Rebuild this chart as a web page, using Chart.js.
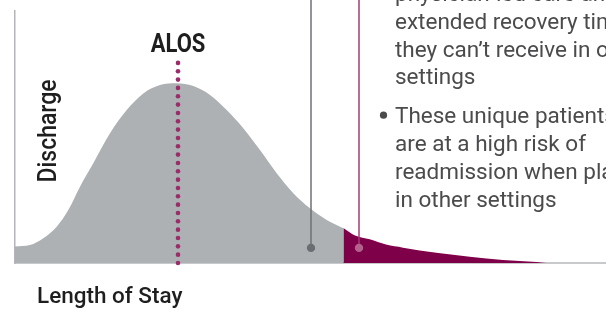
<!DOCTYPE html>
<html>
<head>
<meta charset="utf-8">
<script src="https://cdn.jsdelivr.net/npm/chart.js@4"></script>
<style>
html,body{margin:0;padding:0;background:#fff;overflow:hidden;}
canvas{display:block;}
</style>
</head>
<body>
<canvas id="c" width="606" height="312"></canvas>
<script>
// Length of stay (x) vs discharges (y)
const typicalLos = [0, 1.5, 2.83, 4.17, 5.33, 6.5, 7.83, 9.5, 11.17, 12.83, 14.5, 16.17, 17.83, 19.5, 21.17, 22.83, 24.5, 26.17, 27.83, 29.5, 31.17, 32.83];
const typicalDischarge = [6.5, 7.1, 9.8, 14.4, 21.0, 30.3, 39.6, 51.5, 60.7, 67.3, 70.6, 71.3, 70.2, 66.7, 60.7, 53.5, 44.8, 35.6, 27.7, 21.7, 17.1, 13.8];
const outlierLos = [32.83, 34.0, 35.47, 37.1, 38.8, 42.13, 45.47, 48.8, 52.13, 53.1];
const outlierDischarge = [13.9, 10.9, 9.4, 7.3, 6.1, 4.1, 2.5, 1.2, 0.4, 0];
const alosValue = 16.3;
const alosDotTop = 79.4;
const markerLos = [29.6, 34.4];
const markerDischarge = [6, 6];
const labels = { alos: "ALOS", yTitle: "Discharge", xTitle: "Length of Stay" };
const noteParagraphs = [
  ["physician-led care and", "extended recovery time", "they can\u2019t receive in other", "settings"],
  ["These unique patients", "are at a high risk of", "readmission when placed", "in other settings"]
];

function pts(xs, ys){ return xs.map((x,i)=>({x:x, y:ys[i]})); }

const GRAY = '#adb1b4';
const PURPLE = '#7e0049';
const TEXT = '#4b4b4d';

function scaledText(ctx, txt, x, y, sx){
  ctx.save(); ctx.translate(x, y); ctx.scale(sx, 1); ctx.fillText(txt, 0, 0); ctx.restore();
}

const overlay = {
  id: 'overlay',
  afterDatasetsDraw(chart){
    const ctx = chart.ctx;
    const xs = chart.scales.x, ys = chart.scales.y;
    ctx.save();
    // ALOS dotted line
    const ax = xs.getPixelForValue(alosValue);
    const yb = ys.getPixelForValue(0);
    const yt = ys.getPixelForValue(alosDotTop);
    const n = 24;
    ctx.fillStyle = '#9b2c6a';
    for(let i=0;i<=n;i++){
      const y = yb + (yt-yb)*i/n;
      ctx.beginPath(); ctx.arc(ax, y, 2.3, 0, Math.PI*2); ctx.fill();
    }
    // ALOS label
    ctx.fillStyle = '#1e1e1e';
    ctx.font = 'bold 25px Roboto';
    ctx.textAlign = 'center';
    ctx.textBaseline = 'alphabetic';
    scaledText(ctx, labels.alos, ax, 52, 0.88);
    // marker lines
    const mColors = [['#6f7175','#6a6d71'],['#a33a74','#b4618d']];
    markerLos.forEach((v,i)=>{
      const mx = xs.getPixelForValue(v), my = ys.getPixelForValue(markerDischarge[i]);
      ctx.strokeStyle = mColors[i][0]; ctx.lineWidth = 1.5;
      ctx.beginPath(); ctx.moveTo(mx, my); ctx.lineTo(mx, 0); ctx.stroke();
      ctx.fillStyle = mColors[i][1];
      ctx.beginPath(); ctx.arc(mx, my, 4.2, 0, Math.PI*2); ctx.fill();
    });
    // axis titles
    ctx.fillStyle = '#1e1e1e';
    ctx.font = '500 25px Roboto';
    ctx.save();
    ctx.translate(56, 131);
    ctx.rotate(-Math.PI/2);
    ctx.textAlign = 'center';
    scaledText(ctx, labels.yTitle, 0, 0, 0.92);
    ctx.restore();
    ctx.font = '500 22.5px Roboto';
    ctx.textAlign = 'left';
    ctx.fillText(labels.xTitle, 37, 303);
    // notes
    ctx.fillStyle = TEXT;
    ctx.font = '22.5px Roboto';
    const lh = 27.8;
    let base = 1;
    noteParagraphs.forEach((para, pi)=>{
      if(pi>0) base += 11;
      para.forEach((line, li)=>{
        if(li===0){
          ctx.beginPath(); ctx.arc(383.5, base-8, 3.6, 0, Math.PI*2); ctx.fill();
        }
        ctx.fillText(line, 395, base);
        base += lh;
      });
    });
    ctx.restore();
  }
};

new Chart(document.getElementById('c'), {
  type: 'line',
  data: {
    datasets: [
      { data: pts(typicalLos, typicalDischarge), fill: 'origin', backgroundColor: GRAY, borderWidth: 0, pointRadius: 0, cubicInterpolationMode: 'monotone' },
      { data: pts(outlierLos, outlierDischarge), fill: 'origin', backgroundColor: PURPLE, borderWidth: 0, pointRadius: 0, cubicInterpolationMode: 'monotone' }
    ]
  },
  options: {
    responsive: false,
    devicePixelRatio: 1,
    animation: false,
    layout: { padding: { left: 15, right: 0, top: 11, bottom: 49 } },
    plugins: { legend: { display: false }, tooltip: { enabled: false } },
    scales: {
      x: { type: 'linear', min: 0, max: 59.1, ticks: { display: false }, grid: { display: false, drawTicks: false },
           border: { display: true, color: '#c8c9cb', width: 2 } },
      y: { min: 0, max: 100, ticks: { display: false }, grid: { display: false, drawTicks: false },
           border: { display: true, color: '#b3b5b8', width: 1.5 } }
    }
  },
  plugins: [overlay]
});
</script>
</body>
</html>
